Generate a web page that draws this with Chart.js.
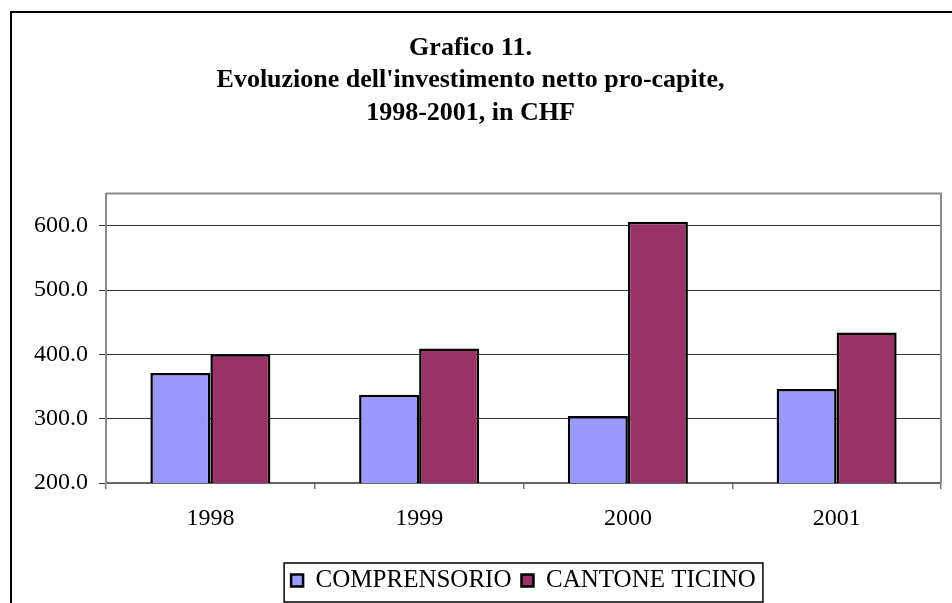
<!DOCTYPE html>
<html>
<head>
<meta charset="utf-8">
<script src="https://cdn.jsdelivr.net/npm/chart.js@4"></script>
<style>
	html, body { margin:0; padding:0; background:#fff; overflow:hidden; }
	#wrap { position:relative; width:952px; height:603px; }
	#frame { position:absolute; left:10px; top:11px; width:1000px; height:700px; border:2px solid #000; }
	#chart { position:absolute; left:0; top:0; }
</style>
</head>
<body>
<div id="wrap">
	<div id="frame"></div>
	<canvas id="chart" width="952" height="603"></canvas>
</div>
<script>
var years = ["1998", "1999", "2000", "2001"];
var comprensorio = [371, 337, 304, 346];
var cantoneTicino = [400, 409, 606, 434];
var yTicks = [200, 300, 400, 500, 600];
var titleLines = ["Grafico 11.", "Evoluzione dell'investimento netto pro-capite,", "1998-2001, in CHF"];

var serif = "'Liberation Serif', 'Times New Roman', serif";

// grey frame round the plot area (top and right sides, like excel)
var plotFrame = {
	id: "plotFrame",
	afterDatasetsDraw: function(chart) {
		var a = chart.chartArea;
		var ctx = chart.ctx;
		ctx.save();
		ctx.strokeStyle = "#8c8c8c";
		ctx.lineWidth = 2;
		ctx.beginPath();
		ctx.moveTo(a.left, a.top);
		ctx.lineTo(a.right, a.top);
		ctx.lineTo(a.right, a.bottom);
		ctx.stroke();
		ctx.restore();
	}
};

// box round the legend items
var legendBox = {
	id: "legendBox",
	afterDraw: function(chart) {
		var hits = chart.legend.legendHitBoxes;
		if (!hits || !hits.length) return;
		var first = hits[0], last = hits[hits.length - 1];
		var ctx = chart.ctx;
		ctx.save();
		ctx.strokeStyle = "#000";
		ctx.lineWidth = 1.5;
		ctx.strokeRect(first.left - 7, first.top - 5, last.left + last.width + 7 - (first.left - 7), first.height + 14);
		ctx.restore();
	}
};

var ctx = document.getElementById("chart").getContext("2d");
var chart = new Chart(ctx, {
	type: "bar",
	data: {
		labels: years,
		datasets: [{
			label: "COMPRENSORIO",
			data: comprensorio,
			backgroundColor: "#9999ff",
			borderColor: "#000",
			borderWidth: 2.5
		}, {
			label: "CANTONE TICINO",
			data: cantoneTicino,
			backgroundColor: "#993366",
			borderColor: "#000",
			borderWidth: 2.5
		}]
	},
	options: {
		responsive: false,
		animation: false,
		events: [],
		layout: { padding: { left: 0, right: 11, top: 0, bottom: 0 } },
		datasets: {
			bar: { categoryPercentage: 0.575, barPercentage: 1.0 }
		},
		plugins: {
			title: {
				display: true,
				text: titleLines,
				color: "#000",
				font: { family: serif, size: 26, weight: "bold", lineHeight: 1.25 },
				padding: { top: 32, bottom: 64 }
			},
			legend: {
				position: "bottom",
				fullSize: false,
				labels: {
					color: "#000",
					font: { family: serif, size: 25 },
					boxWidth: 12,
					boxHeight: 12,
					padding: 10
				}
			},
			tooltip: { enabled: false }
		},
		scales: {
			x: {
				offset: true,
				grid: { offset: true, drawOnChartArea: false, drawTicks: true, tickLength: 6, color: "#777", lineWidth: 1.5 },
				border: { display: true, color: "#666", width: 2 },
				ticks: { color: "#000", font: { family: serif, size: 24 }, padding: 15 },
				afterFit: function(scale) { scale.height = 75; }
			},
			y: {
				min: 200,
				max: 650,
				grid: { color: "#333", lineWidth: 1, tickLength: 7 },
				border: { display: true, color: "#8c8c8c", width: 2 },
				ticks: {
					color: "#000",
					font: { family: serif, size: 24 },
					padding: 11,
					stepSize: 100,
					callback: function(v) { return v.toFixed(1); }
				},
				afterBuildTicks: function(scale) {
					scale.ticks = yTicks.map(function(v) { return { value: v }; });
				},
				afterFit: function(scale) { scale.width = 106; }
			}
		}
	},
	plugins: [plotFrame, legendBox]
});
</script>
</body>
</html>
